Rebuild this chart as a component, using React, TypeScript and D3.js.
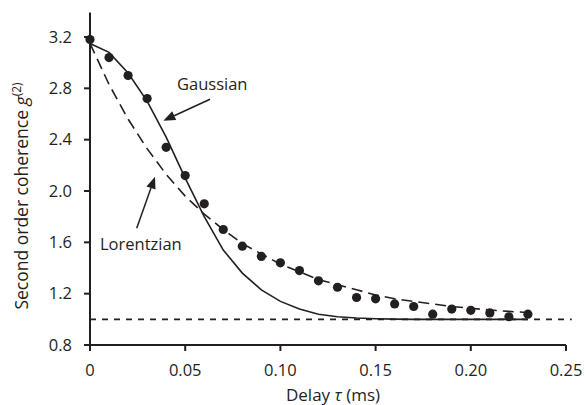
import React from "react";
import * as d3 from "d3";

const delays = [0, 0.01, 0.02, 0.03, 0.04, 0.05, 0.06, 0.07, 0.08, 0.09, 0.1, 0.11, 0.12, 0.13, 0.14, 0.15, 0.16, 0.17, 0.18, 0.19, 0.2, 0.21, 0.22, 0.23];
const measured = [3.18, 3.04, 2.9, 2.72, 2.34, 2.12, 1.9, 1.7, 1.57, 1.49, 1.44, 1.38, 1.3, 1.25, 1.17, 1.16, 1.12, 1.1, 1.04, 1.08, 1.07, 1.05, 1.02, 1.04];
const gaussian = [3.15, 3.08, 2.92, 2.7, 2.42, 2.1, 1.8, 1.54, 1.36, 1.23, 1.14, 1.08, 1.04, 1.02, 1.01, 1.005, 1.002, 1.0, 1.0, 1.0, 1.0, 1.0, 1.0, 1.0];
const lorentzian = [3.15, 2.83, 2.56, 2.33, 2.13, 1.96, 1.82, 1.7, 1.59, 1.51, 1.43, 1.37, 1.31, 1.27, 1.23, 1.19, 1.16, 1.14, 1.12, 1.1, 1.086, 1.073, 1.062, 1.053];
const xTicks = [0, 0.05, 0.1, 0.15, 0.2, 0.25];
const xTickLabels = ["0", "0.05", "0.10", "0.15", "0.20", "0.25"];
const yTicks = [0.8, 1.2, 1.6, 2.0, 2.4, 2.8, 3.2];
const yTickLabels = ["0.8", "1.2", "1.6", "2.0", "2.4", "2.8", "3.2"];
const baseline = 1.0;

const INK = "#231f20";
const FONT = "'Open Sans', sans-serif";
const FS = 16.5;

export default function App() {
  const x = d3.scaleLinear().domain([0, 0.25]).range([90, 566]);
  const y = d3.scaleLinear().domain([0.8, 3.2]).range([345, 37]);
  const yTop = 3.39;

  const line = d3
    .line<number>()
    .x((_, i) => x(delays[i]))
    .y((d) => y(d))
    .curve(d3.curveLinear);

  const arrow = (x1: number, y1: number, x2: number, y2: number, key: string) => {
    const ang = Math.atan2(y2 - y1, x2 - x1);
    const L = 12;
    const W = 4.8;
    const bx = x2 - L * Math.cos(ang);
    const by = y2 - L * Math.sin(ang);
    const px = -Math.sin(ang);
    const py = Math.cos(ang);
    const pts = `${x2},${y2} ${bx + W * px},${by + W * py} ${bx - W * px},${by - W * py}`;
    return (
      <g key={key}>
        <line x1={x1} y1={y1} x2={bx} y2={by} stroke={INK} strokeWidth={1.5} />
        <polygon points={pts} fill={INK} />
      </g>
    );
  };

  return (
    <svg
      width={588}
      height={405}
      style={{ position: "absolute", left: 0, top: 0, background: "#fff" }}
      fontFamily={FONT}
    >
      <line
        x1={x(0)}
        x2={x(0.253)}
        y1={y(baseline)}
        y2={y(baseline)}
        stroke={INK}
        strokeWidth={1.7}
        strokeDasharray="6,6"
      />
      <path d={line(lorentzian) || ""} fill="none" stroke={INK} strokeWidth={1.6} strokeDasharray="11,6" />
      <path d={line(gaussian) || ""} fill="none" stroke={INK} strokeWidth={1.6} />
      {measured.map((v, i) => (
        <circle key={i} cx={x(delays[i])} cy={y(v)} r={4.6} fill={INK} />
      ))}

      <line x1={x(0)} x2={x(0)} y1={y(0.8)} y2={y(yTop)} stroke={INK} strokeWidth={2} />
      <line x1={x(0) - 6} x2={x(0.25)} y1={y(0.8)} y2={y(0.8)} stroke={INK} strokeWidth={2} />
      {yTicks.map((t, i) => (
        <g key={"yt" + i}>
          <line x1={x(0) - 6} x2={x(0)} y1={y(t)} y2={y(t)} stroke={INK} strokeWidth={2} />
          <text x={72} y={y(t)} dy="0.35em" textAnchor="end" fontSize={FS} fill={INK}>
            {yTickLabels[i]}
          </text>
        </g>
      ))}
      {xTicks.map((t, i) => (
        <g key={"xt" + i}>
          <line x1={x(t)} x2={x(t)} y1={y(0.8)} y2={y(0.8) + 6} stroke={INK} strokeWidth={2} />
          <text x={x(t)} y={376} textAnchor="middle" fontSize={FS} fill={INK}>
            {xTickLabels[i]}
          </text>
        </g>
      ))}

      <text x={333} y={401} textAnchor="middle" fontSize={17} fill={INK}>
        Delay <tspan fontStyle="italic">τ</tspan> (ms)
      </text>
      <text
        transform={`translate(28,${196}) rotate(-90)`}
        textAnchor="middle"
        fontSize={17.5}
        fill={INK}
      >
        Second order coherence <tspan fontStyle="italic">g</tspan>
        <tspan fontSize={12} dy={-7}>(2)</tspan>
      </text>

      <text x={177} y={90} fontSize={FS} fill={INK}>Gaussian</text>
      {arrow(210, 99.3, 163.3, 120.7, "ga")}
      <text x={100} y={250} fontSize={FS} fill={INK}>Lorentzian</text>
      {arrow(136.7, 228.3, 155, 176.7, "lo")}
    </svg>
  );
}
